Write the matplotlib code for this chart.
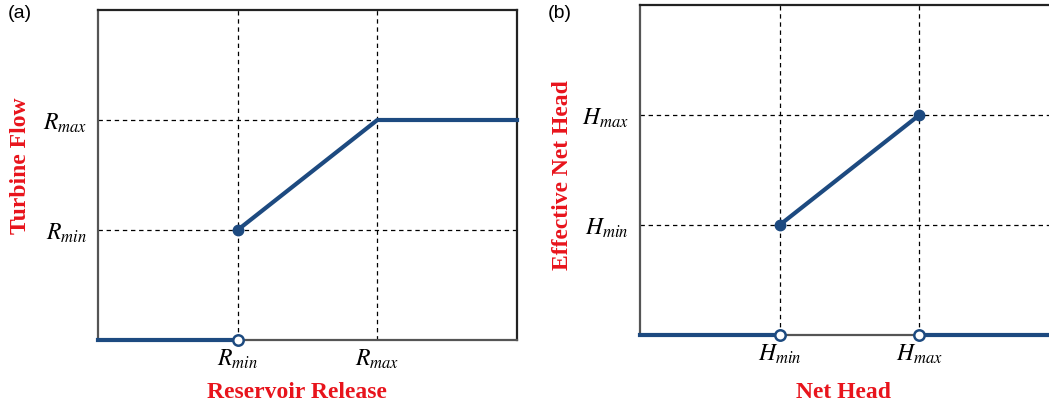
import matplotlib.pyplot as plt

# panel (a): reservoir release -> turbine flow
a_off_x = [0, 1]
a_off_y = [0, 0]
a_on_x = [1, 2, 3]
a_on_y = [1, 2, 2]
a_ticks = [1, 2]
a_xlabels = [r'$R_{min}$', r'$R_{max}$']
a_ylabels = [r'$R_{min}$', r'$R_{max}$']

# panel (b): net head -> effective net head
b_off1_x = [0, 1]
b_off2_x = [2, 3]
b_off_y = [0, 0]
b_on_x = [1, 2]
b_on_y = [1, 2]
b_ticks = [1, 2]
b_xlabels = [r'$H_{min}$', r'$H_{max}$']
b_ylabels = [r'$H_{min}$', r'$H_{max}$']

plt.rcParams['mathtext.fontset'] = 'stix'

BLUE = '#1d4a80'
RED = '#e8141c'
W, H = 1049, 407

fig = plt.figure(figsize=(W / 100, H / 100), dpi=100)
fig.patch.set_facecolor('white')


def setup(ax, ticks, xl, yl):
    ax.set_xlim(0, 3)
    ax.set_ylim(0, 3)
    for t in ticks:
        ax.axvline(t, color='black', lw=0.9, ls=(0, (3.5, 3)), zorder=1)
        ax.axhline(t, color='black', lw=0.9, ls=(0, (3.5, 3)), zorder=1)
    ax.set_xticks(ticks)
    ax.set_yticks(ticks)
    ax.set_xticklabels(xl, fontsize=17)
    ax.set_yticklabels(yl, fontsize=17)
    ax.tick_params(length=0)
    ax.tick_params(axis='x', pad=5)
    ax.tick_params(axis='y', pad=8)
    for s in ax.spines.values():
        s.set_linewidth(1.6)
        s.set_color('#222222')
    ax.spines['left'].set_color('#555555')
    ax.spines['bottom'].set_color('#555555')


lab = dict(color=RED, fontsize=17, fontweight='bold', family='Liberation Serif',
           va='center')

ax1 = fig.add_axes([98 / W, 1 - 340 / H, 419 / W, 330 / H])
setup(ax1, a_ticks, a_xlabels, a_ylabels)
ax1.plot(a_off_x, a_off_y, color=BLUE, lw=3, clip_on=False, zorder=5)
ax1.plot(a_on_x, a_on_y, color=BLUE, lw=3, clip_on=False, zorder=5)
ax1.plot(a_on_x[:1], a_on_y[:1], 'o', color=BLUE, ms=7.5, zorder=6)
ax1.plot(a_off_x[-1:], a_off_y[-1:], 'o', mfc='white', mec=BLUE, mew=1.8,
         ms=7.5, clip_on=False, zorder=6)
ax1.set_xlabel('Reservoir Release', **lab)
ax1.set_ylabel('Turbine Flow', **lab)
ax1.xaxis.set_label_coords(0.475, -0.16)
ax1.yaxis.set_label_coords(-0.185, 0.527)
fig.text(8 / W, 1 - 14 / H, '(a)', fontsize=14, family='Liberation Sans',
         va='center', ha='left')

ax2 = fig.add_axes([640 / W, 1 - 335 / H, 419 / W, 330 / H])
setup(ax2, b_ticks, b_xlabels, b_ylabels)
ax2.plot(b_off1_x, b_off_y, color=BLUE, lw=3, clip_on=False, zorder=5)
ax2.plot(b_off2_x, b_off_y, color=BLUE, lw=3, clip_on=False, zorder=5)
ax2.plot(b_on_x, b_on_y, color=BLUE, lw=3, zorder=5)
ax2.plot(b_on_x, b_on_y, 'o', color=BLUE, ms=7.5, zorder=6)
ax2.plot([b_off1_x[-1], b_off2_x[0]], b_off_y, 'o', mfc='white', mec=BLUE,
         mew=1.8, ms=7.5, clip_on=False, zorder=6)
ax2.set_xlabel('Net Head', **lab)
ax2.set_ylabel('Effective Net Head', **lab)
ax2.xaxis.set_label_coords(0.485, -0.173)
ax2.yaxis.set_label_coords(-0.186, 0.485)
fig.text(548 / W, 1 - 14 / H, '(b)', fontsize=14, family='Liberation Sans',
         va='center', ha='left')

fig.savefig('out.png', dpi=100)
